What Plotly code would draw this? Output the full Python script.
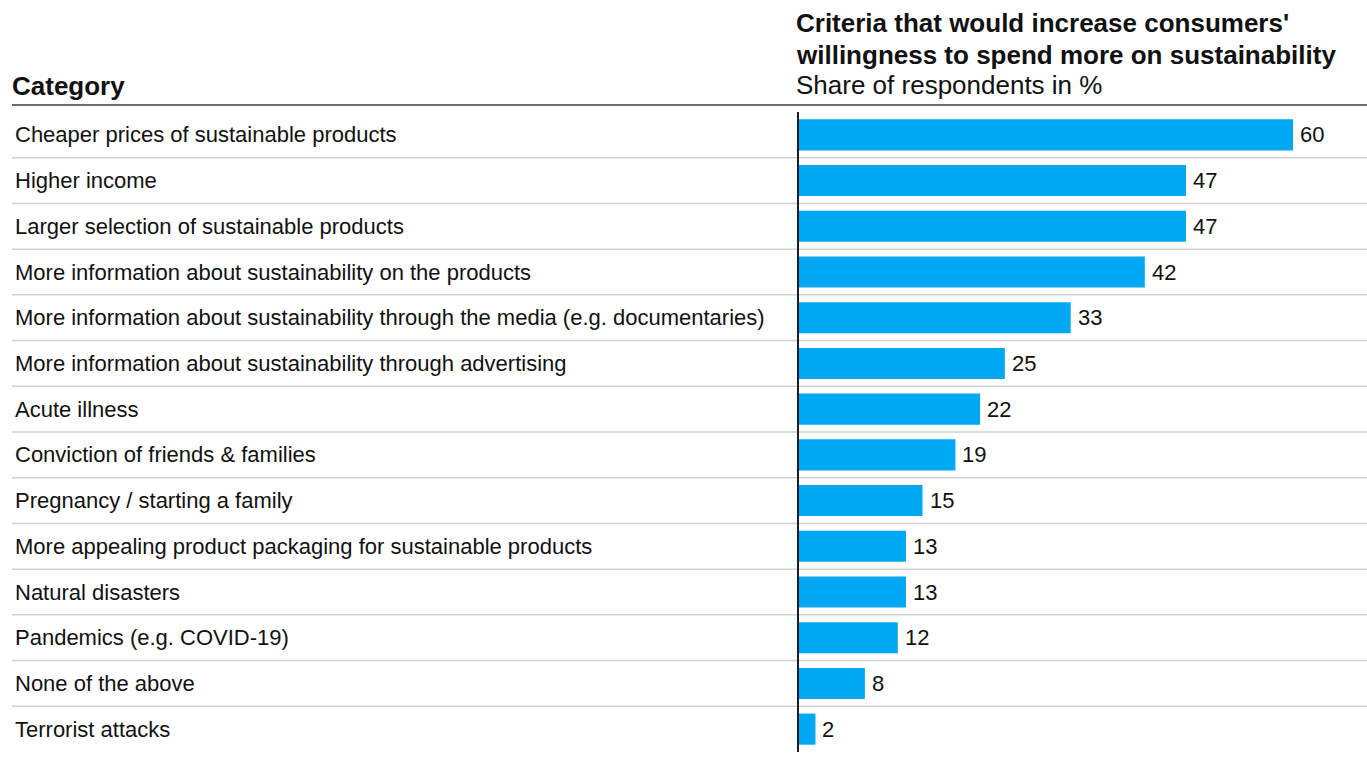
import plotly.graph_objects as go

categories = [
    "Cheaper prices of sustainable products",
    "Higher income",
    "Larger selection of sustainable products",
    "More information about sustainability on the products",
    "More information about sustainability through the media (e.g. documentaries)",
    "More information about sustainability through advertising",
    "Acute illness",
    "Conviction of friends & families",
    "Pregnancy / starting a family",
    "More appealing product packaging for sustainable products",
    "Natural disasters",
    "Pandemics (e.g. COVID-19)",
    "None of the above",
    "Terrorist attacks",
]
values = [60, 47, 47, 42, 33, 25, 22, 19, 15, 13, 13, 12, 8, 2]

title_lines = ["Criteria that would increase consumers'",
               "willingness to spend more on sustainability"]
subtitle = "Share of respondents in %"
column_header = "Category"

W, H = 1367, 776
FONT = "Liberation Sans, Arial, sans-serif"
BAR_COLOR = "#00a8f3"
TEXT_COLOR = "#111111"

x_left_px = 799
x_per_unit = 494 / 60
x_max = (W - x_left_px) / x_per_unit

plot_top_px, plot_bottom_px = 112, 752
y_dom = [(H - plot_bottom_px) / H, (H - plot_top_px) / H]


def py(px):
    """Convert a pixel row (from the top) into paper coordinates."""
    return (H - px) / H


fig = go.Figure()
fig.add_trace(go.Bar(
    x=values,
    y=list(range(len(categories))),
    orientation="h",
    marker=dict(color=BAR_COLOR, line=dict(width=0)),
    width=0.68,
    hoverinfo="skip",
))

annotations = []
# category labels in the left column
for i, cat in enumerate(categories):
    annotations.append(dict(
        x=13 / W, xref="paper", y=i, yref="y", text=cat,
        xanchor="left", yanchor="middle", showarrow=False,
        font=dict(family=FONT, size=22, color=TEXT_COLOR),
    ))
# value labels after each bar
for i, v in enumerate(values):
    annotations.append(dict(
        x=v, xref="x", y=i, yref="y", text=str(v),
        xanchor="left", yanchor="middle", showarrow=False, xshift=5,
        font=dict(family=FONT, size=22, color=TEXT_COLOR),
    ))
# column header
annotations.append(dict(
    x=10 / W, xref="paper", y=py(86), yref="paper",
    text=f"<b>{column_header}</b>", xanchor="left", yanchor="middle",
    showarrow=False, font=dict(family=FONT, size=26, color=TEXT_COLOR),
))
# chart title and subtitle
for text, ypx in [(f"<b>{title_lines[0]}</b>", 23),
                  (f"<b>{title_lines[1]}</b>", 55),
                  (subtitle, 85)]:
    annotations.append(dict(
        x=794 / W, xref="paper", y=py(ypx), yref="paper",
        text=text, xanchor="left", yanchor="middle", align="left",
        showarrow=False, font=dict(family=FONT, size=26, color=TEXT_COLOR),
    ))

shapes = []
# header rule
shapes.append(dict(
    type="line", xref="paper", yref="paper",
    x0=12 / W, x1=1, y0=py(105), y1=py(105),
    line=dict(color="#6b6b6b", width=2), layer="below",
))
# row separators
for i in range(len(categories) - 1):
    shapes.append(dict(
        type="line", xref="paper", yref="y",
        x0=12 / W, x1=1, y0=i + 0.5, y1=i + 0.5,
        line=dict(color="#d2d2d2", width=1.5), layer="below",
    ))

fig.update_layout(
    width=W, height=H,
    margin=dict(l=0, r=0, t=0, b=0),
    paper_bgcolor="white", plot_bgcolor="white",
    showlegend=False,
    bargap=0.32,
    xaxis=dict(domain=[x_left_px / W, 1], range=[0, x_max],
               showgrid=False, zeroline=False, showticklabels=False,
               fixedrange=True),
    yaxis=dict(domain=y_dom, range=[len(categories) - 0.5, -0.5],
               showgrid=False, zeroline=False, showticklabels=False,
               showline=True, linecolor="#1c1c28", linewidth=2,
               fixedrange=True),
    annotations=annotations,
    shapes=shapes,
)

fig.write_html("out.html")
